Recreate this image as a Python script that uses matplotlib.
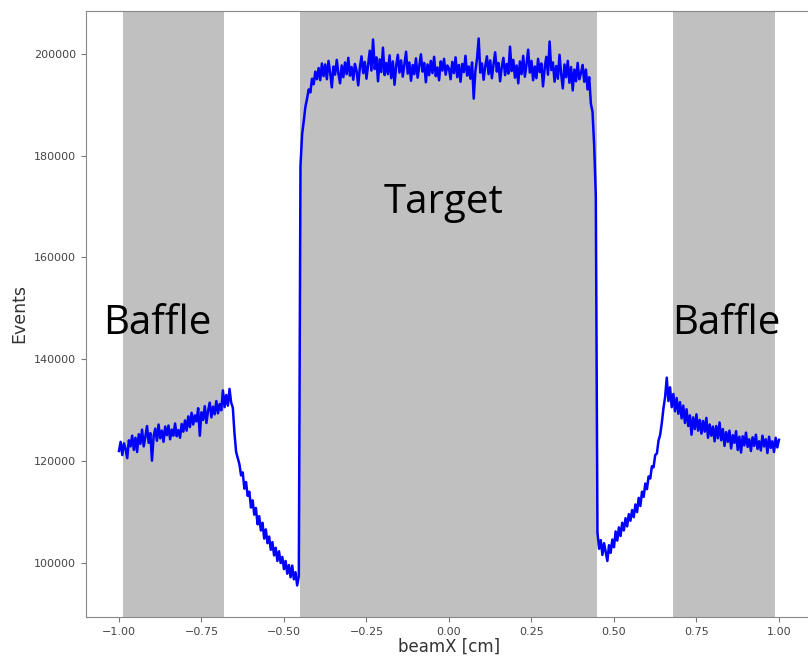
"""beamX distribution with baffle / target regions shaded."""

import numpy as np
import matplotlib
matplotlib.use('Agg')
import matplotlib.pyplot as plt

# bin centres, step 0.005 cm
BIN_STEP = 0.005
X_START = -1.0

# events per bin, in thousands (segment by segment)
events_left = [
    122.0, 123.8, 121.2, 123.5, 122.4, 120.6, 124.1, 122.9, 125.0, 122.2,
    124.6, 121.8, 125.3, 123.4, 126.2, 122.9, 124.8, 126.9, 123.6, 125.5,
    120.1, 124.9, 126.4, 124.0, 127.2, 124.5, 126.0, 123.8, 126.8, 125.1,
    127.0, 124.3, 126.2, 125.0, 127.4, 124.9, 126.1, 124.6, 127.3, 125.8,
    128.0, 126.0, 128.8, 126.7, 129.5, 127.2, 129.0, 127.8, 130.4, 125.0,
    129.6, 128.1, 130.8, 127.5, 129.9, 131.5, 128.6, 130.7, 129.2, 131.8,
    129.4, 131.2, 130.0, 133.9, 130.6, 133.0, 130.9, 134.2, 131.5, 130.5,
    125.5, 121.8, 120.6, 119.4, 117.2, 117.8, 114.6, 115.9, 113.2, 114.0,
    110.9, 112.3, 109.5, 110.8, 107.6, 109.2, 106.4, 107.9, 104.8, 106.6,
    103.9, 105.2, 102.6, 104.1, 101.5, 103.0, 100.4, 102.3, 100.0, 101.2,
    98.8, 100.4, 97.9, 99.6, 97.2, 99.5, 96.8, 98.2, 95.6, 97.4,
]
events_rise = [178.0, 184.2, 186.8, 189.6, 191.2, 193.0, 192.4, 195.1, 194.0, 196.5, 195.0]
events_flat = [
    197.2, 194.8, 198.1, 195.6, 197.9, 195.0, 198.6, 196.3, 193.4, 197.5,
    195.9, 198.8, 196.1, 194.2, 197.7, 195.4, 198.3, 196.0, 199.2, 195.7,
    197.4, 194.9, 198.0, 196.6, 193.8, 197.3, 199.5, 196.2, 198.4, 195.1,
    197.8, 200.6, 196.7, 202.8, 197.0, 199.3, 194.6, 198.9, 196.4, 201.2,
    195.8, 198.2, 196.0, 199.7, 195.2, 198.5, 193.9, 197.6, 199.8, 196.3,
    198.7, 195.5, 197.9, 200.4, 196.1, 198.3, 194.7, 197.8, 196.0, 199.1,
    195.3, 197.6, 199.9, 196.5, 198.2, 194.4, 197.9, 195.8, 198.6, 196.2,
    199.4, 195.6, 197.3, 194.8, 198.5, 196.7, 199.0, 195.9, 197.7, 197.1,
    195.0, 198.4, 196.2, 199.3, 195.4, 197.8, 194.5, 198.0, 196.4, 199.6,
    195.7, 197.5, 195.1, 198.3, 191.2, 196.6, 199.0, 203.0, 196.3, 198.1,
    194.9, 197.6, 199.5, 196.0, 198.7, 195.2, 197.9, 200.3, 196.5, 198.2,
    194.6, 197.4, 199.2, 195.8, 198.0, 196.1, 201.4, 196.6, 198.8, 195.3,
    197.7, 194.2, 198.5, 196.0, 199.6, 195.5, 197.9, 200.8, 196.3, 198.6,
    194.8, 197.5, 195.2, 199.0, 196.4, 198.1, 193.6, 197.2, 199.4, 195.9,
    202.4, 196.8, 198.3, 194.5, 197.6, 195.1, 199.8, 196.0, 193.2, 197.9,
    195.4, 198.6, 194.3, 197.4, 192.8, 196.9, 194.6, 198.2, 195.0,
]
events_fall = [196.2, 197.8, 194.5, 196.9, 193.0, 195.4, 190.2, 188.6, 182.0, 172.0]
events_right = [
    106.0, 102.8, 104.5, 101.6, 103.9, 102.2, 100.4, 103.5, 102.0, 104.6,
    103.1, 106.2, 104.4, 107.0, 105.3, 107.9, 106.4, 108.8, 107.2, 109.6,
    108.3, 110.4, 109.0, 111.5, 110.0, 112.8, 111.2, 114.0, 113.0, 115.6,
    114.5, 117.0, 116.6, 119.0, 118.8, 121.2, 121.5, 124.0, 125.2, 127.5,
    130.4, 132.6, 136.4, 131.8, 134.5, 130.6, 133.2, 129.8, 132.4, 129.3,
    131.6, 128.4, 130.9, 127.5, 130.2, 126.9, 129.0, 125.2, 128.6, 126.3,
    129.2, 126.0, 128.1, 125.4, 127.9, 125.8, 128.5, 124.6, 127.2, 125.0,
    126.8, 123.9, 126.9, 124.5, 127.6, 124.1, 126.3, 123.0, 125.7, 123.8,
    126.0, 122.5, 125.1, 123.6, 125.9, 122.2, 124.8, 121.7, 124.9, 123.1,
    125.6, 122.8, 124.3, 122.0, 124.7, 123.0, 125.2, 122.4, 123.9, 122.1,
    125.0, 122.9, 124.3, 121.6, 124.8, 122.6, 123.9, 121.8, 124.6, 122.7,
    124.2,
]

# shaded regions (cm) and their labels
baffle_left = (-0.988, -0.682)
target = (-0.452, 0.448)
baffle_right = (0.679, 0.988)
region_labels = ['Baffle', 'Target', 'Baffle']
label_x = [-0.885, -0.015, 0.839]
label_y = [144900, 168800, 144900]

events = np.array(events_left + events_rise + events_flat + events_fall + events_right) * 1000
beam_x = X_START + BIN_STEP * np.arange(len(events))

fig = plt.figure(figsize=(8.08, 6.58), dpi=100)
ax = fig.add_axes([0.1064, 0.0623, 0.8985, 0.921])

for lo, hi in (baffle_left, target, baffle_right):
    ax.axvspan(lo, hi, color='#c0c0c0', lw=0, zorder=0)

ax.plot(beam_x, events, color='#0000ff', linewidth=1.8, zorder=2)

ax.set_xlim(-1.1, 1.1)
ax.set_ylim(89400, 208400)
ax.set_xticks([-1.0, -0.75, -0.5, -0.25, 0.0, 0.25, 0.5, 0.75, 1.0])
ax.set_yticks([100000, 120000, 140000, 160000, 180000, 200000])
ax.tick_params(labelsize=8, labelcolor='#444444', color='#777777')
for sp in ax.spines.values():
    sp.set_color('#888888')

ax.set_xlabel('beamX [cm]', fontsize=12, color='#333333', labelpad=1)
ax.set_ylabel('Events', fontsize=12.5, color='#333333')

for txt, tx, ty in zip(region_labels, label_x, label_y):
    ax.text(tx, ty, txt, ha='center', va='baseline', fontsize=29,
            family=['Open Sans', 'DejaVu Sans'], color='black', zorder=3)

fig.savefig('out.png', dpi=100)
